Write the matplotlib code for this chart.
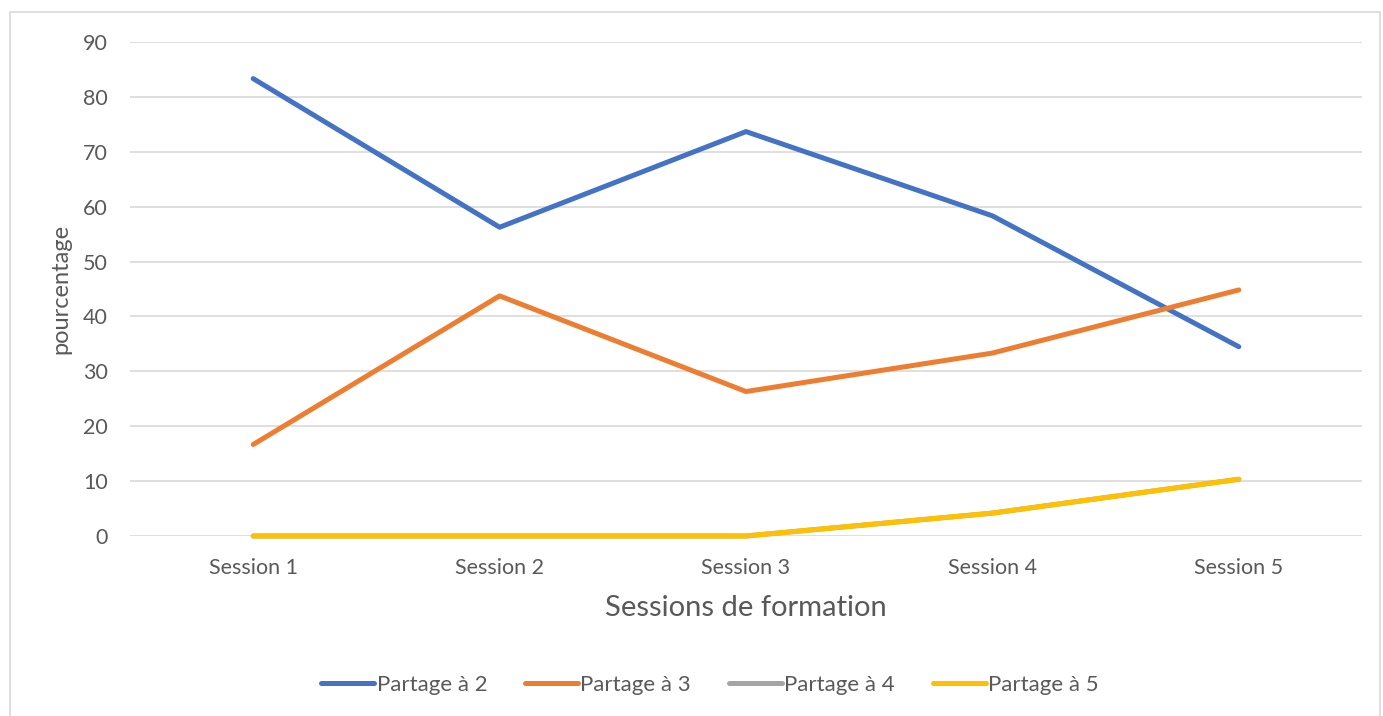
import matplotlib.pyplot as plt
from matplotlib.patches import Rectangle

sessions = ['Session 1', 'Session 2', 'Session 3', 'Session 4', 'Session 5']
partage2 = [83.33, 56.25, 73.68, 58.33, 34.48]
partage3 = [16.67, 43.75, 26.32, 33.33, 44.83]
partage4 = [0, 0, 0, 4.17, 10.34]
partage5 = [0, 0, 0, 4.17, 10.34]

plt.rcParams['font.family'] = ['Lato', 'DejaVu Sans']
txt = '#595959'

W, H = 1383, 716
fig = plt.figure(figsize=(W / 100, H / 100), dpi=100)
ax = fig.add_axes([130 / W, 1 - 536 / H, (1362 - 130) / W, (536 - 42) / H])

# outer chart border
fig.patches.append(Rectangle((10 / W, -0.01), (1380 - 10) / W, 1 - 12 / H + 0.01,
                             transform=fig.transFigure, fill=False,
                             edgecolor='#d9d9d9', linewidth=1.2))

x = range(len(sessions))
lw = 3.6
ax.plot(x, partage2, color='#4472c4', lw=lw, solid_capstyle='round', label='Partage à 2', clip_on=False)
ax.plot(x, partage3, color='#ed7d31', lw=lw, solid_capstyle='round', label='Partage à 3', clip_on=False)
ax.plot(x, partage4, color='#a5a5a5', lw=lw, solid_capstyle='round', label='Partage à 4', clip_on=False)
ax.plot(x, partage5, color='#ffc000', lw=lw, solid_capstyle='round', label='Partage à 5', clip_on=False)

ax.set_xlim(-0.5, 4.5)
ax.set_ylim(0, 90)
ax.set_yticks(range(0, 91, 10))
ax.set_xticks(list(x))
ax.set_xticklabels(sessions)
ax.grid(axis='y', color='#d9d9d9', lw=1.2)
ax.set_axisbelow(True)
for s in ax.spines.values():
    s.set_visible(False)
ax.tick_params(length=0, labelsize=15.5, labelcolor=txt)
ax.tick_params(axis='y', pad=16)
ax.tick_params(axis='x', pad=16)

ax.set_xlabel('Sessions de formation', fontsize=21, color=txt, labelpad=12)
ax.set_ylabel('pourcentage', fontsize=17, color=txt, labelpad=8)

fig.legend(loc='center', bbox_to_anchor=(710 / W, 1 - 685 / H), ncol=4, frameon=False,
           fontsize=16, labelcolor=txt, handlelength=2.4, handletextpad=0.1,
           columnspacing=1.7)

fig.savefig('out.png', dpi=100)
